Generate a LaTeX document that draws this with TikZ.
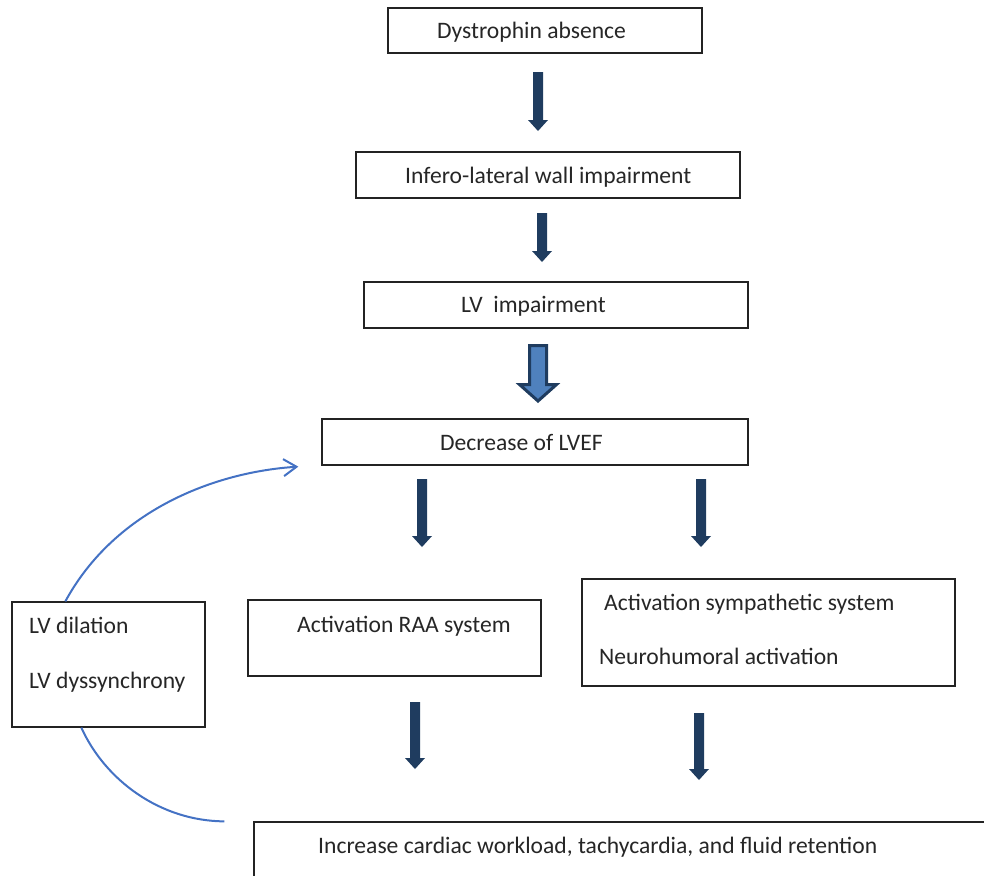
\documentclass[tikz,border=0pt]{standalone}
\usepackage{fontspec}
\setmainfont{Carlito}
\usetikzlibrary{arrows.meta,calc}
\definecolor{navy}{RGB}{31,60,95}
\definecolor{lblue}{RGB}{79,129,189}
\definecolor{curveblue}{RGB}{68,114,196}
\definecolor{boxline}{RGB}{35,35,35}
\newcommand{\navyarrow}[3]{\fill[navy] (#1-5,#2) -- (#1+5,#2) -- (#1+5,#3-11) -- (#1+10,#3-11) -- (#1,#3) -- (#1-10,#3-11) -- (#1-5,#3-11) -- cycle;}
\begin{document}
\begin{tikzpicture}[x=1pt,y=-1pt,
  box/.style={draw=boxline, line width=1.3pt, inner sep=0pt},
  lbl/.style={anchor=base west, inner sep=0pt, font=\fontsize{23.6}{28}\selectfont, text=black!85},
  loopline/.style={draw=curveblue, line width=2pt}]
\clip (0,0) rectangle (984,875);
% boxes
\node[box, minimum width=314pt, minimum height=45pt] (dys) at (545,30.5) {};
\node[box, minimum width=384pt, minimum height=46pt] (inf) at (548,175) {};
\node[box, minimum width=384pt, minimum height=46pt] (lvi) at (556,305) {};
\node[box, minimum width=426pt, minimum height=46pt] (dec) at (535,442) {};
\node[box, minimum width=293pt, minimum height=76pt] (raa) at (394.5,638) {};
\node[box, minimum width=373pt, minimum height=107pt] (sym) at (768.5,632.5) {};
\node[box, minimum width=193pt, minimum height=125pt] (lvd) at (108.5,664.5) {};
\node[box, minimum width=746pt, minimum height=78pt] (inc) at (627,861) {};
% texts
\node[lbl] (t1) at (437,38) {Dystrophin absence};
\node[lbl] (t2) at (405,183) {Infero-lateral wall impairment};
\node[lbl] (t3) at (461,312) {LV\ \ impairment};
\node[lbl] (t4) at (440,450) {Decrease of LVEF};
\node[lbl] (t5) at (297,632) {Activation RAA system};
\node[lbl] (t6) at (604,610) {Activation sympathetic system};
\node[lbl] (t7) at (599,664) {Neurohumoral activation};
\node[lbl] (t8) at (29,633) {LV dilation};
\node[lbl] (t9) at (29,688) {LV dyssynchrony};
\node[lbl] (t10) at (318,853) {Increase cardiac workload, tachycardia, and fluid retention};
% block arrows
\navyarrow{538}{72}{131}
\navyarrow{542}{213}{262}
\navyarrow{422}{479}{547}
\navyarrow{701}{479}{547}
\navyarrow{415}{702}{769}
\navyarrow{699}{713}{780}
\draw[navy, line width=3pt, fill=lblue] (529.5,345.5) -- (546.5,345.5) -- (546.5,384.5) -- (556.5,384.5) -- (538,401) -- (519.5,384.5) -- (529.5,384.5) -- cycle;
% curves
\draw[loopline, -{Straight Barb[length=13pt,width=17pt]}] ([xshift=54pt]lvd.north west) .. controls (115,510) and (215,472) .. ([xshift=-23pt,yshift=-1pt]dec.south west);
\draw[loopline] ([xshift=70pt]lvd.south west) .. controls (105,780) and (160,821) .. ([xshift=-29pt]inc.north west);
\end{tikzpicture}
\end{document}
